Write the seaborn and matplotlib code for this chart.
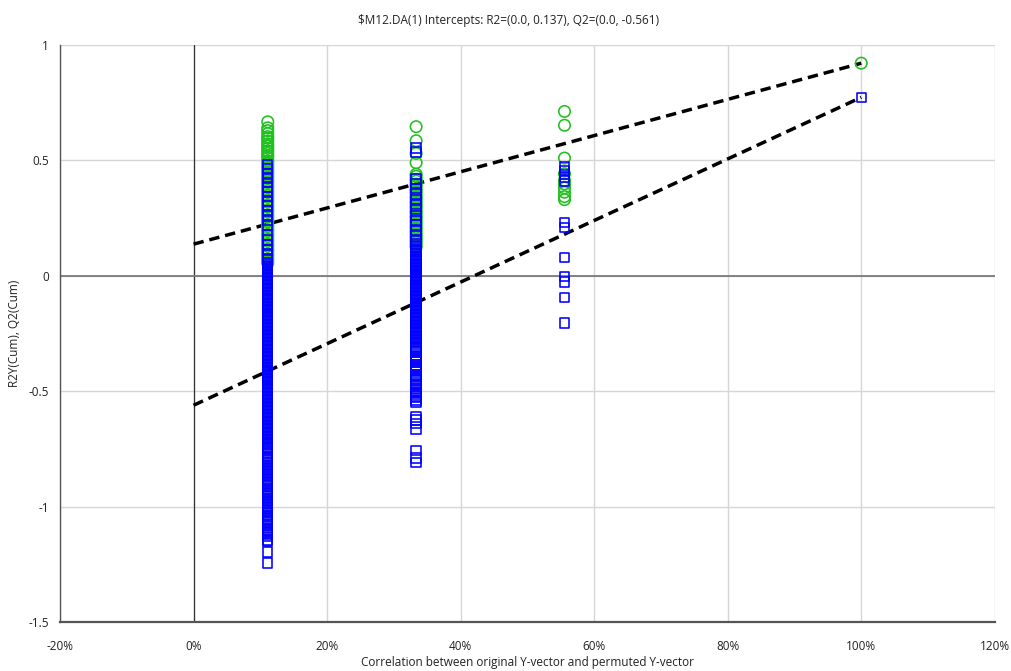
import matplotlib
matplotlib.use("Agg")
import matplotlib.pyplot as plt
import matplotlib.ticker as mticker
import pandas as pd
import seaborn as sns

# Correlation of each permuted Y-vector with the original one (fraction)
corr_levels = [1 / 9, 3 / 9, 5 / 9, 1.0]

# R2Y(cum) of the permuted models at each correlation level
r2_c1 = [0.667, 0.641, 0.629, 0.616, 0.603, 0.596, 0.584, 0.572, 0.563, 0.552,
         0.541, 0.531, 0.520, 0.510, 0.497, 0.489, 0.476, 0.467, 0.455, 0.446,
         0.433, 0.425, 0.412, 0.404, 0.391, 0.382, 0.370, 0.361, 0.349, 0.340,
         0.327, 0.319, 0.306, 0.298, 0.285, 0.276, 0.264, 0.255, 0.243, 0.234,
         0.221, 0.213, 0.200, 0.192, 0.179, 0.170, 0.158, 0.149, 0.137, 0.128,
         0.115, 0.107, 0.094, 0.086, 0.073, 0.064, 0.055]
r2_c2 = [0.646, 0.585, 0.530, 0.490, 0.440, 0.431, 0.418, 0.410, 0.397, 0.389,
         0.376, 0.367, 0.357, 0.344, 0.335, 0.323, 0.314, 0.302, 0.293, 0.280,
         0.272, 0.259, 0.251, 0.238, 0.229, 0.217, 0.208, 0.196, 0.187, 0.175,
         0.166, 0.154, 0.145, 0.133, 0.125]
r2_c3 = [0.712, 0.652, 0.510, 0.442, 0.413, 0.398, 0.381, 0.362, 0.343, 0.330]
r2_orig = [0.921]

# Q2(cum) of the permuted models at each correlation level
q2_c1 = [0.483, 0.462, 0.441, 0.425, 0.404, 0.383, 0.365, 0.344, 0.322, 0.304,
         0.283, 0.262, 0.240, 0.219, 0.176, 0.155, 0.133, 0.112, 0.094, 0.072,
         0.058,
         0.045, 0.039, 0.034, 0.027, 0.021, 0.015, 0.010, 0.003, -0.003, -0.009,
         -0.014, -0.021, -0.027, -0.033, -0.038, -0.045, -0.051, -0.057, -0.062,
         -0.069, -0.075, -0.081, -0.086, -0.093, -0.099, -0.105, -0.110, -0.117,
         -0.123, -0.129, -0.134, -0.141, -0.147, -0.153, -0.158, -0.165, -0.171,
         -0.177, -0.182, -0.189, -0.195, -0.201, -0.206, -0.213, -0.219, -0.225,
         -0.230, -0.237, -0.243, -0.249, -0.254, -0.261, -0.267, -0.273, -0.278,
         -0.285, -0.291, -0.297, -0.302, -0.309, -0.315, -0.321, -0.326, -0.333,
         -0.339, -0.345, -0.350, -0.357, -0.363, -0.369, -0.374, -0.381, -0.387,
         -0.393, -0.398, -0.405, -0.411, -0.417, -0.422, -0.429, -0.435, -0.441,
         -0.446, -0.453, -0.459, -0.465, -0.470, -0.477, -0.483, -0.489, -0.494,
         -0.501, -0.507, -0.513, -0.518, -0.525, -0.531, -0.537, -0.542, -0.549,
         -0.555, -0.561, -0.566, -0.573, -0.579, -0.585, -0.590, -0.597, -0.603,
         -0.609, -0.614, -0.621, -0.627, -0.633, -0.638, -0.645, -0.651, -0.657,
         -0.662, -0.669, -0.675, -0.681, -0.686, -0.693, -0.699, -0.705, -0.710,
         -0.717, -0.723, -0.729, -0.734, -0.741, -0.747, -0.753, -0.768, -0.783,
         -0.790, -0.797, -0.803, -0.810, -0.817, -0.823, -0.830, -0.837, -0.843,
         -0.850, -0.857, -0.863, -0.870, -0.877, -0.883, -0.890, -0.897, -0.903,
         -0.910, -0.925, -0.932, -0.939, -0.945, -0.952, -0.959, -0.965, -0.972,
         -0.979, -0.985, -0.992, -0.999, -1.005, -1.012, -1.019, -1.025, -1.040,
         -1.047, -1.054, -1.060, -1.067, -1.074, -1.080, -1.095, -1.102, -1.109,
         -1.115, -1.122, -1.129, -1.145, -1.152, -1.196, -1.245]
q2_c2 = [0.553, 0.537, 0.420, 0.400, 0.378, 0.355, 0.330, 0.308, 0.286, 0.262,
         0.240, 0.220, 0.196, 0.173, 0.150, 0.138, 0.125,
         0.118, 0.112, 0.107, 0.100, 0.094, 0.088, 0.083, 0.076, 0.070, 0.064,
         0.059, 0.052, 0.046, 0.040, 0.035, 0.028, 0.022, 0.016, 0.011, 0.004,
         -0.002, -0.008, -0.013, -0.020, -0.026, -0.032, -0.037, -0.044, -0.050,
         -0.056, -0.061, -0.068, -0.074, -0.080, -0.085, -0.092, -0.098, -0.104,
         -0.109, -0.116, -0.122, -0.128, -0.133, -0.140, -0.146, -0.152, -0.157,
         -0.164, -0.170, -0.176, -0.181, -0.188, -0.194, -0.200, -0.205, -0.212,
         -0.218, -0.224, -0.229, -0.236, -0.242, -0.248, -0.253, -0.260, -0.266,
         -0.272, -0.277, -0.284, -0.290, -0.297, -0.310, -0.317, -0.324, -0.331,
         -0.345, -0.352, -0.359, -0.366, -0.373, -0.387, -0.394, -0.401, -0.408,
         -0.415, -0.429, -0.436, -0.443, -0.450, -0.464, -0.471, -0.478, -0.492,
         -0.499, -0.506, -0.513, -0.520, -0.527, -0.541, -0.546, -0.611, -0.624,
         -0.641, -0.667, -0.758, -0.789, -0.810]
q2_c3 = [0.472, 0.455, 0.440, 0.425, 0.410, 0.232, 0.210, 0.080, -0.004,
         -0.027, -0.095, -0.205]
q2_orig = [0.773]

# Regression intercepts at zero correlation
r2_intercept = 0.137
q2_intercept = -0.561

title = "$M12.DA(1) Intercepts: R2=(0.0, 0.137), Q2=(0.0, -0.561)"
xlabel = "Correlation between original Y-vector and permuted Y-vector"
ylabel = "R2Y(Cum), Q2(Cum)"


def long_table(groups):
    xs, ys = [], []
    for level, vals in zip(corr_levels, groups):
        xs.extend([level] * len(vals))
        ys.extend(vals)
    return pd.DataFrame({"corr": xs, "value": ys})


r2_df = long_table([r2_c1, r2_c2, r2_c3, r2_orig])
q2_df = long_table([q2_c1, q2_c2, q2_c3, q2_orig])
r2_line = pd.DataFrame({"corr": [0.0, corr_levels[-1]], "value": [r2_intercept, r2_orig[0]]})
q2_line = pd.DataFrame({"corr": [0.0, corr_levels[-1]], "value": [q2_intercept, q2_orig[0]]})

sns.set_style("white")
plt.rcParams["font.family"] = ["Open Sans", "DejaVu Sans"]
plt.rcParams["axes.unicode_minus"] = False

GREEN = "#21c021"
BLUE = "#0000ff"

fig = plt.figure(figsize=(10.12, 6.71), dpi=100)
ax = fig.add_axes([0.0593, 0.073, 0.9237, 0.860])

dash = (0, (3.0, 1.7))
sns.lineplot(data=r2_line, x="corr", y="value", color="black", lw=2.5,
             linestyle=dash, ax=ax, zorder=3)
sns.lineplot(data=q2_line, x="corr", y="value", color="black", lw=2.5,
             linestyle=dash, ax=ax, zorder=3)

sns.scatterplot(data=r2_df, x="corr", y="value", marker="o", s=68,
                facecolors="none", edgecolor=GREEN, linewidth=1.15,
                ax=ax, zorder=4)
sns.scatterplot(data=q2_df, x="corr", y="value", marker="s", s=46,
                facecolors="none", edgecolor=BLUE, linewidth=1.15,
                ax=ax, zorder=5)

ax.set_xlim(-0.2, 1.2)
ax.set_ylim(-1.5, 1.0)

ax.xaxis.set_major_locator(mticker.MultipleLocator(0.2))
ax.xaxis.set_minor_locator(mticker.MultipleLocator(0.1))
ax.xaxis.set_major_formatter(mticker.FuncFormatter(lambda v, p: f"{v * 100:.0f}%"))
ax.yaxis.set_major_locator(mticker.MultipleLocator(0.5))
ax.yaxis.set_major_formatter(mticker.FuncFormatter(lambda v, p: f"{v:g}"))

ax.grid(True, which="major", color="#d6d6d6", lw=1.0, zorder=0)
ax.set_axisbelow(True)
ax.axvline(0, color="#333333", lw=0.9, zorder=1)
ax.axhline(0, color="#7a7a7a", lw=1.3, zorder=1)

for side in ("top", "right"):
    ax.spines[side].set_visible(False)
for side in ("left", "bottom"):
    ax.spines[side].set_color("#555555")
    ax.spines[side].set_linewidth(1.0)
ax.spines["bottom"].set_linewidth(1.6)

ax.tick_params(axis="both", which="major", direction="out", length=5,
               width=0.9, color="#555555", labelsize=8.5, labelcolor="#222222", pad=3)
ax.tick_params(axis="x", which="minor", direction="out", length=5,
               width=0.9, color="#555555")
ax.tick_params(axis="x", which="major", pad=8)

ax.set_xlabel(xlabel, fontsize=8.5, color="#222222", labelpad=2)
ax.set_ylabel(ylabel, fontsize=8.5, color="#222222", labelpad=5)
fig.text(0.503, 0.970, title, ha="center", va="center", fontsize=8.5,
         color="#222222", parse_math=False)

fig.savefig("out.png", dpi=100)
